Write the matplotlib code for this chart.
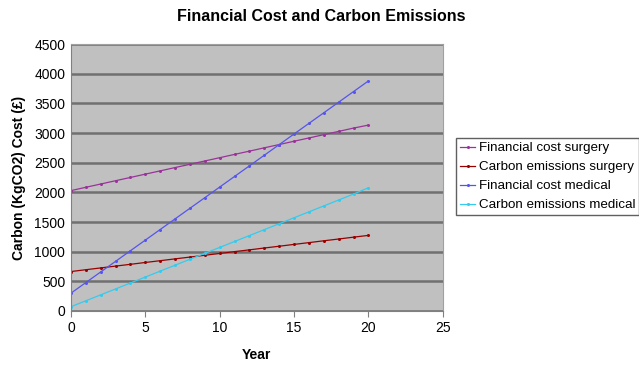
import matplotlib
matplotlib.use("Agg")
import matplotlib.pyplot as plt

plt.rcParams["font.family"] = ["Liberation Sans", "DejaVu Sans"]

years = list(range(0, 21))
fin_surgery = [2030, 2086, 2141, 2197, 2252, 2308, 2363, 2419, 2474, 2530, 2585,
               2641, 2696, 2752, 2807, 2863, 2918, 2974, 3029, 3085, 3135]
carbon_surgery = [665, 696, 726, 757, 787, 818, 848, 879, 909, 940, 970,
                  1001, 1031, 1062, 1092, 1123, 1153, 1184, 1214, 1245, 1275]
fin_medical = [300, 479, 658, 837, 1016, 1195, 1374, 1553, 1732, 1911, 2090,
               2269, 2448, 2627, 2806, 2985, 3164, 3343, 3522, 3701, 3880]
carbon_medical = [72, 172, 272, 372, 472, 572, 672, 772, 872, 972, 1072,
                  1172, 1272, 1372, 1472, 1572, 1672, 1772, 1872, 1972, 2078]

series = [
    ("Financial cost surgery", fin_surgery, "#993399"),
    ("Carbon emissions surgery", carbon_surgery, "#990000"),
    ("Financial cost medical", fin_medical, "#5555EE"),
    ("Carbon emissions medical", carbon_medical, "#33CCEE"),
]

fig = plt.figure(figsize=(6.39, 3.65), dpi=100)
ax = fig.add_axes([0.111, 0.148, 0.582, 0.731])
ax.set_facecolor("#C0C0C0")

for label, values, color in series:
    ax.plot(years, values, color=color, lw=0.9, marker="o", ms=2.2,
            markeredgewidth=0, label=label)

ax.set_xlim(0, 25)
ax.set_ylim(0, 4500)
ax.set_xticks(range(0, 26, 5))
ax.set_yticks(range(0, 4501, 500))
ax.yaxis.grid(True, color="#707070", lw=1.8)
ax.set_axisbelow(True)
for side in ["top", "right"]:
    ax.spines[side].set_color("#A0A0A0")
for side in ["left", "bottom"]:
    ax.spines[side].set_color("#808080")
ax.tick_params(labelsize=10, length=4, color="#808080")
ax.tick_params(axis="y", length=0, pad=4)

fig.suptitle("Financial Cost and Carbon Emissions", x=0.503, y=0.975,
             fontsize=11.5, fontweight="bold", va="top")
ax.set_xlabel("Year", fontsize=10, fontweight="bold", labelpad=9)
ax.set_ylabel("Carbon (KgCO2) Cost (£)", fontsize=10, fontweight="bold", labelpad=6)

fig.legend(loc="upper left", bbox_to_anchor=(0.714, 0.622), fontsize=9.6,
           frameon=True, fancybox=False, edgecolor="#606060", framealpha=1,
           handlelength=1.1, handletextpad=0.3, borderpad=0.3, labelspacing=0.5,
           borderaxespad=0)

fig.savefig("out.png", dpi=100)
